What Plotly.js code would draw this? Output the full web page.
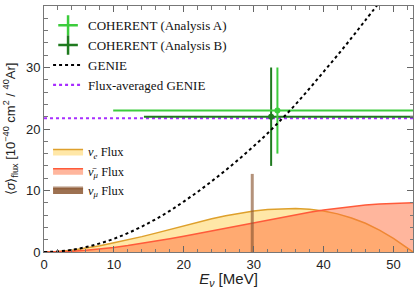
<!DOCTYPE html>
<html>
<head>
<meta charset="utf-8">
<script src="https://cdn.plot.ly/plotly-3.0.1.min.js"></script>
<style>html,body{margin:0;padding:0;background:#fff;}#chart{width:415px;height:289px;}</style>
</head>
<body>
<div id="chart"></div>
<script>
// ---- data ----
const genieE     = [0, 2, 4, 6, 8, 10, 12, 14, 16, 18, 20, 22, 24, 26, 28, 30, 32, 34, 36, 38, 40, 42, 44, 46, 48];
const genieSigma = [0, 0.09, 0.36, 0.80, 1.40, 2.15, 3.07, 4.14, 5.35, 6.70, 8.2, 9.8, 11.5, 13.3, 15.2, 17.2, 19.3, 21.6, 24.0, 26.6, 29.3, 32.0, 34.8, 37.7, 40.6];

const fluxAvgE     = [0, 52.8];
const fluxAvgSigma = [21.75, 21.75];

const cohA_E = [33.4], cohA_sigma = [23.0], cohA_Elow = [9.9],  cohA_Ehigh = [56], cohA_sigLow = [16.0], cohA_sigHigh = [30.0];
const cohB_E = [32.5], cohB_sigma = [22.0], cohB_Elow = [14.3], cohB_Ehigh = [56], cohB_sigLow = [14.0], cohB_sigHigh = [30.0];

const fluxE    = [0, 2, 4, 6, 8, 10, 12, 14, 16, 18, 20, 22, 24, 26, 28, 30, 32, 34, 36, 38, 40, 42, 44, 46, 48, 50, 52, 52.8];
const nueFlux  = [0, 0.07, 0.27, 0.6, 1.0, 1.5, 1.98, 2.5, 3.07, 3.67, 4.27, 4.85, 5.40, 5.90, 6.33, 6.68, 6.93, 7.07, 7.09, 6.96, 6.66, 6.20, 5.54, 4.68, 3.55, 2.2, 0.7, 0];
const numubarFlux = [0, 0.03, 0.13, 0.29, 0.50, 0.75, 1.05, 1.39, 1.76, 2.16, 2.57, 3.01, 3.46, 3.91, 4.36, 4.81, 5.25, 5.68, 6.08, 6.47, 6.82, 7.13, 7.40, 7.64, 7.81, 7.94, 7.99, 8.0];
const numuE    = [29.8];
const numuFlux = [12.7];

const xRange = [0, 52.8];
const yRange = [0, 40];
const xTicks = [0, 10, 20, 30, 40, 50];
const yTicks = [0, 10, 20, 30, 40];

// ---- traces ----
const serif = 'Liberation Serif, Times New Roman, serif';
const sans = 'Liberation Sans, Arial, sans-serif';
const colA = '#3ccc3c', colB = '#1f7a1f';

function errTrace(E, s, Elow, Ehigh, sLow, sHigh, col) {
  return {
    x: E, y: s, type: 'scatter', mode: 'markers', showlegend: false,
    marker: {color: col, size: 6},
    error_x: {type: 'data', symmetric: false,
      array: E.map((v, i) => Ehigh[i] - v), arrayminus: E.map((v, i) => v - Elow[i]),
      color: col, thickness: 2, width: 0},
    error_y: {type: 'data', symmetric: false,
      array: s.map((v, i) => sHigh[i] - v), arrayminus: s.map((v, i) => v - sLow[i]),
      color: col, thickness: 2, width: 0},
    hoverinfo: 'skip'
  };
}

const traces = [
  // fluxes (legend2)
  {x: fluxE, y: nueFlux, type: 'scatter', mode: 'lines', fill: 'tozeroy',
   fillcolor: 'rgba(255,208,80,0.5)', line: {color: '#dea02c', width: 1.5},
   name: '<i>ν</i><sub><i>e</i></sub> Flux', legend: 'legend2'},
  {x: fluxE, y: numubarFlux, type: 'scatter', mode: 'lines', fill: 'tozeroy',
   fillcolor: 'rgba(255,110,60,0.5)', line: {color: '#ff5a3a', width: 1.5},
   name: '<i>ν̄</i><sub><i>μ</i></sub> Flux', legend: 'legend2'},
  {x: [numuE[0], numuE[0]], y: [0, numuFlux[0]], type: 'scatter', mode: 'lines', fill: 'tozeroy',
   fillcolor: 'rgba(140,88,50,0.85)', line: {color: 'rgba(140,88,50,0.65)', width: 3},
   name: '<i>ν</i><sub><i>μ</i></sub> Flux', legend: 'legend2'},
  // GENIE
  {x: fluxAvgE, y: fluxAvgSigma, type: 'scatter', mode: 'lines', showlegend: false,
   line: {color: '#a82eff', width: 2.2, dash: '3px,3px'}},
  errTrace(cohB_E, cohB_sigma, cohB_Elow, cohB_Ehigh, cohB_sigLow, cohB_sigHigh, colB),
  errTrace(cohA_E, cohA_sigma, cohA_Elow, cohA_Ehigh, cohA_sigLow, cohA_sigHigh, colA),
  {x: genieE, y: genieSigma, type: 'scatter', mode: 'lines', showlegend: false,
   line: {color: '#000', width: 2, dash: '3px,3px', shape: 'spline'}},
  // legend-only entries (legend 1)
  {x: [null], y: [null], type: 'scatter', mode: 'markers', name: 'COHERENT (Analysis A)',
   marker: {symbol: 'cross-thin', size: 14, line: {color: colA, width: 2.5}, color: colA}},
  {x: [null], y: [null], type: 'scatter', mode: 'markers', name: 'COHERENT (Analysis B)',
   marker: {symbol: 'cross-thin', size: 14, line: {color: colB, width: 2.5}, color: colB}},
  {x: [null], y: [null], type: 'scatter', mode: 'lines', name: 'GENIE',
   line: {color: '#000', width: 2, dash: '3px,3px'}},
  {x: [null], y: [null], type: 'scatter', mode: 'lines', name: 'Flux-averaged GENIE',
   line: {color: '#a82eff', width: 2.2, dash: '3px,3px'}}
];

const axisCommon = {
  showgrid: false, zeroline: false, showline: true, linecolor: '#777', linewidth: 1,
  mirror: 'ticks', ticks: 'inside', ticklen: 6, tickcolor: '#666', tickwidth: 1,
  tickfont: {family: sans, size: 13, color: '#222'},
  minor: {ticks: 'inside', ticklen: 3.5, tickcolor: '#777', dtick: 2, showgrid: false}
};

const layout = {
  width: 415, height: 289,
  margin: {l: 44, r: 2, t: 6, b: 37},
  paper_bgcolor: '#fff', plot_bgcolor: '#fff',
  xaxis: Object.assign({}, axisCommon, {
    range: xRange, tickvals: xTicks, ticktext: xTicks.map(String),
    title: {text: '<i>E</i><sub><i>ν</i></sub> [MeV]', font: {family: sans, size: 15, color: '#222'}, standoff: 4}
  }),
  yaxis: Object.assign({}, axisCommon, {
    range: yRange, tickvals: yTicks, ticktext: yTicks.map(String),
    minor: {ticks: 'inside', ticklen: 3.5, tickcolor: '#777', dtick: 2, showgrid: false},
    title: {text: '⟨<i>σ</i>⟩<sub>flux</sub> [10<sup>−40</sup> cm<sup>2</sup> / <sup>40</sup>Ar]',
            font: {family: sans, size: 13, color: '#222'}, standoff: 7}
  }),
  legend: {x: 0.011, y: 0.983, xanchor: 'left', yanchor: 'top', bgcolor: 'rgba(0,0,0,0)',
           borderwidth: 0, font: {family: serif, size: 13, color: '#111'}, traceorder: 'normal'},
  legend2: {x: 0.011, y: 0.468, xanchor: 'left', yanchor: 'top', bgcolor: 'rgba(0,0,0,0)',
           borderwidth: 0, font: {family: serif, size: 12.5, color: '#111'}, traceorder: 'normal'},
  showlegend: true
};

Plotly.newPlot('chart', traces, layout, {displayModeBar: false, staticPlot: true});
</script>
</body>
</html>
